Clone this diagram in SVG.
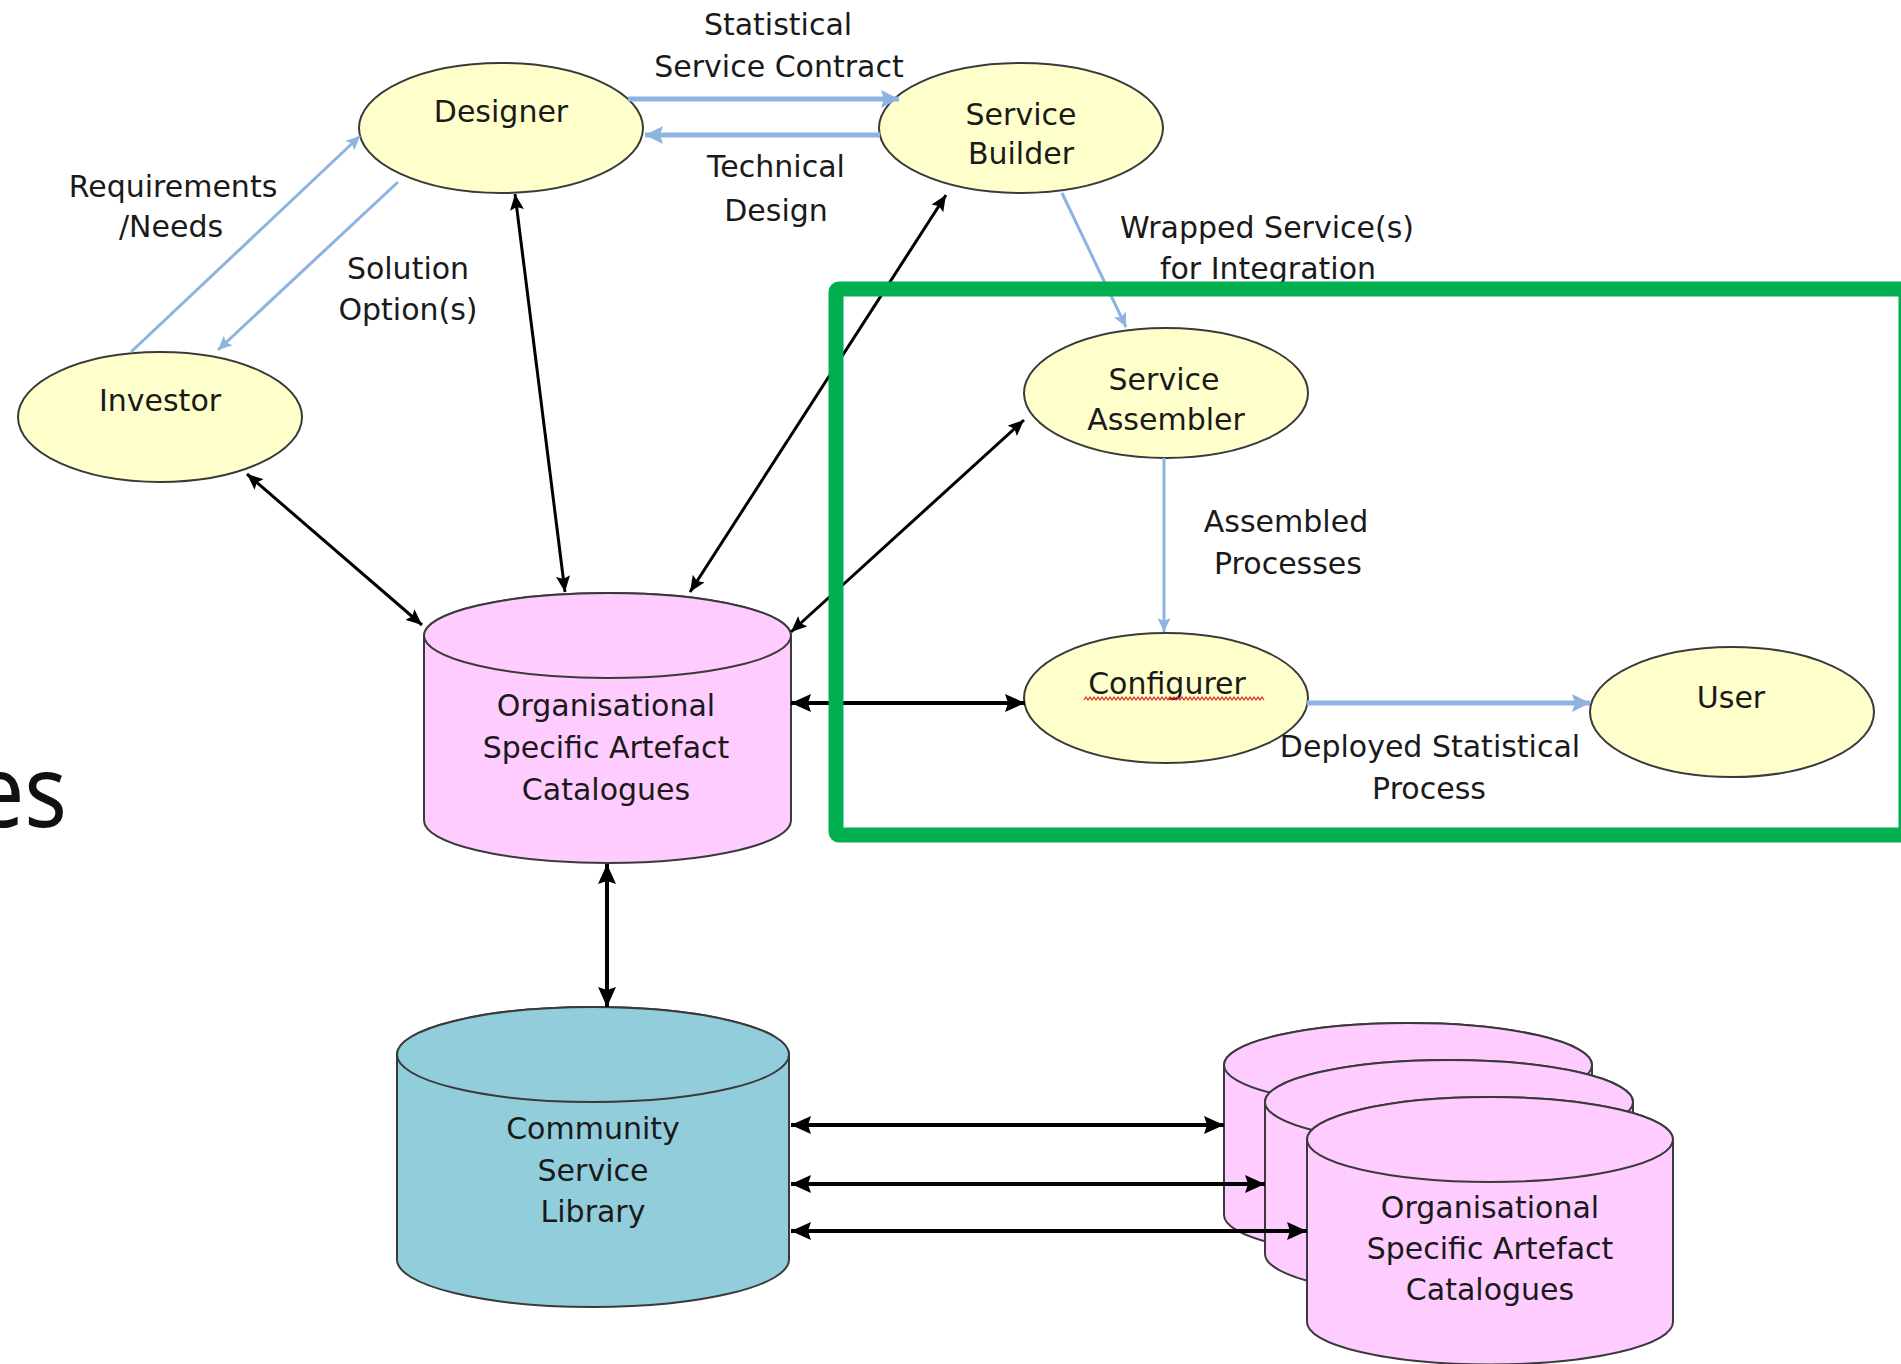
<svg xmlns="http://www.w3.org/2000/svg" width="1901" height="1364" viewBox="0 0 1901 1364">
  <style>
    .actor { fill: #ffffcc; stroke: #3a3a3a; stroke-width: 2; }
    .store { fill: #ffccff; stroke: #3a3a3a; stroke-width: 2; }
    .library { fill: #92cddc; stroke: #3a3a3a; stroke-width: 2; }
    .lbl { font-family: "DejaVu Sans", "Liberation Sans", sans-serif; font-size: 30px; fill: #1a1a1a; text-anchor: middle; }
    .flow { fill: none; stroke: #8db3e2; }
    .link { fill: none; stroke: #000000; }
  </style>
  <defs>
    <marker id="headBlk" viewBox="0 0 16 14" refX="16" refY="7" markerWidth="16" markerHeight="14" markerUnits="userSpaceOnUse" orient="auto-start-reverse">
      <path d="M0,0 L16,7 L0,14 L3,7 z" fill="#000000"/>
    </marker>
    <marker id="headBlkLg" viewBox="0 0 20 18" refX="20" refY="9" markerWidth="20" markerHeight="18" markerUnits="userSpaceOnUse" orient="auto-start-reverse">
      <path d="M0,0 L20,9 L0,18 L3,9 z" fill="#000000"/>
    </marker>
    <marker id="headBlu" viewBox="0 0 14 13" refX="14" refY="6.5" markerWidth="14" markerHeight="13" markerUnits="userSpaceOnUse" orient="auto">
      <path d="M0,0 L14,6.5 L0,13 L3,6.5 z" fill="#8db3e2"/>
    </marker>
    <marker id="headBluLg" viewBox="0 0 18 18" refX="18" refY="9" markerWidth="18" markerHeight="18" markerUnits="userSpaceOnUse" orient="auto">
      <path d="M0,0 L18,9 L0,18 L3,9 z" fill="#8db3e2"/>
    </marker>
  </defs>

  <rect width="1901" height="1364" fill="#ffffff"/>

  <!-- fragment of a large heading at the left edge -->
  <text x="-26" y="827" font-family="'Noto Sans', 'Open Sans', sans-serif" font-size="100" fill="#111111" textLength="93" lengthAdjust="spacingAndGlyphs">es</text>

  <!-- roles -->
  <g id="designer">
    <ellipse class="actor" cx="501" cy="128" rx="142" ry="65"/>
    <text class="lbl" x="501" y="122">Designer</text>
  </g>
  <g id="service-builder">
    <ellipse class="actor" cx="1021" cy="128" rx="142" ry="65"/>
    <text class="lbl" x="1021" y="125">Service</text>
    <text class="lbl" x="1021" y="164">Builder</text>
  </g>
  <g id="investor">
    <ellipse class="actor" cx="160" cy="417" rx="142" ry="65"/>
    <text class="lbl" x="160" y="411">Investor</text>
  </g>
  <g id="service-assembler">
    <ellipse class="actor" cx="1166" cy="393" rx="142" ry="65"/>
    <text class="lbl" x="1164" y="390">Service</text>
    <text class="lbl" x="1166" y="430">Assembler</text>
  </g>
  <g id="configurer">
    <ellipse class="actor" cx="1166" cy="698" rx="142" ry="65"/>
    <text class="lbl" x="1167" y="694">Configurer</text>
    <path d="M1084,700 l2,-3 l2,3 l2,-3 l2,3 l2,-3 l2,3 l2,-3 l2,3 l2,-3 l2,3 l2,-3 l2,3 l2,-3 l2,3 l2,-3 l2,3 l2,-3 l2,3 l2,-3 l2,3 l2,-3 l2,3 l2,-3 l2,3 l2,-3 l2,3 l2,-3 l2,3 l2,-3 l2,3 l2,-3 l2,3 l2,-3 l2,3 l2,-3 l2,3 l2,-3 l2,3 l2,-3 l2,3 l2,-3 l2,3 l2,-3 l2,3 l2,-3 l2,3 l2,-3 l2,3 l2,-3 l2,3 l2,-3 l2,3 l2,-3 l2,3 l2,-3 l2,3 l2,-3 l2,3 l2,-3 l2,3 l2,-3 l2,3 l2,-3 l2,3 l2,-3 l2,3 l2,-3 l2,3 l2,-3 l2,3 l2,-3 l2,3 l2,-3 l2,3 l2,-3 l2,3 l2,-3 l2,3 l2,-3 l2,3 l2,-3 l2,3 l2,-3 l2,3 l2,-3 l2,3 l2,-3 l2,3 l2,-3 l2,3" fill="none" stroke="#e02020" stroke-width="1.2"/>
  </g>
  <g id="user">
    <ellipse class="actor" cx="1732" cy="712" rx="142" ry="65"/>
    <text class="lbl" x="1731" y="708">User</text>
  </g>

  <!-- catalogue stores -->
  <g id="org-catalogues">
    <path class="store" d="M424,635.5 V820.5 A183.5,42.5 0 0 0 791,820.5 V635.5 A183.5,42.5 0 0 0 424,635.5 Z"/>
    <ellipse class="store" cx="607.5" cy="635.5" rx="183.5" ry="42.5"/>
    <text class="lbl" x="606" y="716">Organisational</text>
    <text class="lbl" x="606" y="758">Specific Artefact</text>
    <text class="lbl" x="606" y="800">Catalogues</text>
  </g>
  <g id="community-library">
    <path class="library" d="M397,1054.5 V1259.5 A196,47.5 0 0 0 789,1259.5 V1054.5 A196,47.5 0 0 0 397,1054.5 Z"/>
    <ellipse class="library" cx="593" cy="1054.5" rx="196" ry="47.5"/>
    <text class="lbl" x="593" y="1139">Community</text>
    <text class="lbl" x="593" y="1181">Service</text>
    <text class="lbl" x="593" y="1222">Library</text>
  </g>
  <g id="other-catalogues-back">
    <path class="store" d="M1224,1065 V1215 A184,42 0 0 0 1592,1215 V1065 A184,42 0 0 0 1224,1065 Z"/>
    <ellipse class="store" cx="1408" cy="1065" rx="184" ry="42"/>
  </g>
  <g id="other-catalogues-middle">
    <path class="store" d="M1265,1102 V1254 A184,42 0 0 0 1633,1254 V1102 A184,42 0 0 0 1265,1102 Z"/>
    <ellipse class="store" cx="1449" cy="1102" rx="184" ry="42"/>
  </g>
  <g id="other-catalogues-front">
    <path class="store" d="M1307,1139.5 V1322 A183,42.5 0 0 0 1673,1322 V1139.5 A183,42.5 0 0 0 1307,1139.5 Z"/>
    <ellipse class="store" cx="1490" cy="1139.5" rx="183" ry="42.5"/>
    <text class="lbl" x="1490" y="1218">Organisational</text>
    <text class="lbl" x="1490" y="1259">Specific Artefact</text>
    <text class="lbl" x="1490" y="1300">Catalogues</text>
  </g>

  <!-- connectors -->
  <g id="connectors">
    <!-- flows between roles -->
    <line class="flow" x1="628" y1="99" x2="899" y2="99" stroke-width="5" marker-end="url(#headBluLg)"/>
    <line class="flow" x1="880" y1="135" x2="645" y2="135" stroke-width="5" marker-end="url(#headBluLg)"/>
    <line class="flow" x1="131" y1="352" x2="360" y2="136" stroke-width="3" marker-end="url(#headBlu)"/>
    <line class="flow" x1="398" y1="182" x2="218" y2="350" stroke-width="3" marker-end="url(#headBlu)"/>
    <line class="flow" x1="1062" y1="193" x2="1126" y2="327" stroke-width="3" marker-end="url(#headBlu)"/>
    <line class="flow" x1="1164" y1="458" x2="1164" y2="632" stroke-width="3" marker-end="url(#headBlu)"/>
    <line class="flow" x1="1307" y1="703" x2="1590" y2="703" stroke-width="5" marker-end="url(#headBluLg)"/>

    <!-- catalogue access -->
    <line class="link" x1="247" y1="474" x2="422" y2="625" stroke-width="3" marker-start="url(#headBlk)" marker-end="url(#headBlk)"/>
    <line class="link" x1="515" y1="194" x2="565" y2="592" stroke-width="3" marker-start="url(#headBlk)" marker-end="url(#headBlk)"/>
    <line class="link" x1="946" y1="195" x2="690" y2="592" stroke-width="3" marker-start="url(#headBlk)" marker-end="url(#headBlk)"/>
    <line class="link" x1="1024" y1="420" x2="791" y2="632" stroke-width="3" marker-start="url(#headBlk)" marker-end="url(#headBlk)"/>
    <line class="link" x1="791" y1="703" x2="1025" y2="703" stroke-width="4" marker-start="url(#headBlkLg)" marker-end="url(#headBlkLg)"/>
    <line class="link" x1="607" y1="864" x2="607" y2="1007" stroke-width="4" marker-start="url(#headBlkLg)" marker-end="url(#headBlkLg)"/>
    <line class="link" x1="791" y1="1125" x2="1224" y2="1125" stroke-width="4" marker-start="url(#headBlkLg)" marker-end="url(#headBlkLg)"/>
    <line class="link" x1="791" y1="1184" x2="1265" y2="1184" stroke-width="4" marker-start="url(#headBlkLg)" marker-end="url(#headBlkLg)"/>
    <line class="link" x1="791" y1="1231" x2="1307" y2="1231" stroke-width="4" marker-start="url(#headBlkLg)" marker-end="url(#headBlkLg)"/>
  </g>

  <!-- connector labels -->
  <g id="labels">
    <text class="lbl" x="778" y="35">Statistical</text>
    <text class="lbl" x="779" y="77">Service Contract</text>
    <text class="lbl" x="776" y="177">Technical</text>
    <text class="lbl" x="776" y="221">Design</text>
    <text class="lbl" x="173" y="197">Requirements</text>
    <text class="lbl" x="171" y="237">/Needs</text>
    <text class="lbl" x="408" y="279">Solution</text>
    <text class="lbl" x="408" y="320">Option(s)</text>
    <text class="lbl" x="1267" y="238">Wrapped Service(s)</text>
    <text class="lbl" x="1268" y="279">for Integration</text>
    <text class="lbl" x="1286" y="532">Assembled</text>
    <text class="lbl" x="1288" y="574">Processes</text>
    <text class="lbl" x="1430" y="757">Deployed Statistical</text>
    <text class="lbl" x="1429" y="799">Process</text>
  </g>

  <!-- highlight frame around the assembly roles -->
  <g id="highlight">
    <rect x="836" y="289" width="1070" height="546" rx="3" fill="none" stroke="#00b050" stroke-width="15"/>
  </g>
</svg>
